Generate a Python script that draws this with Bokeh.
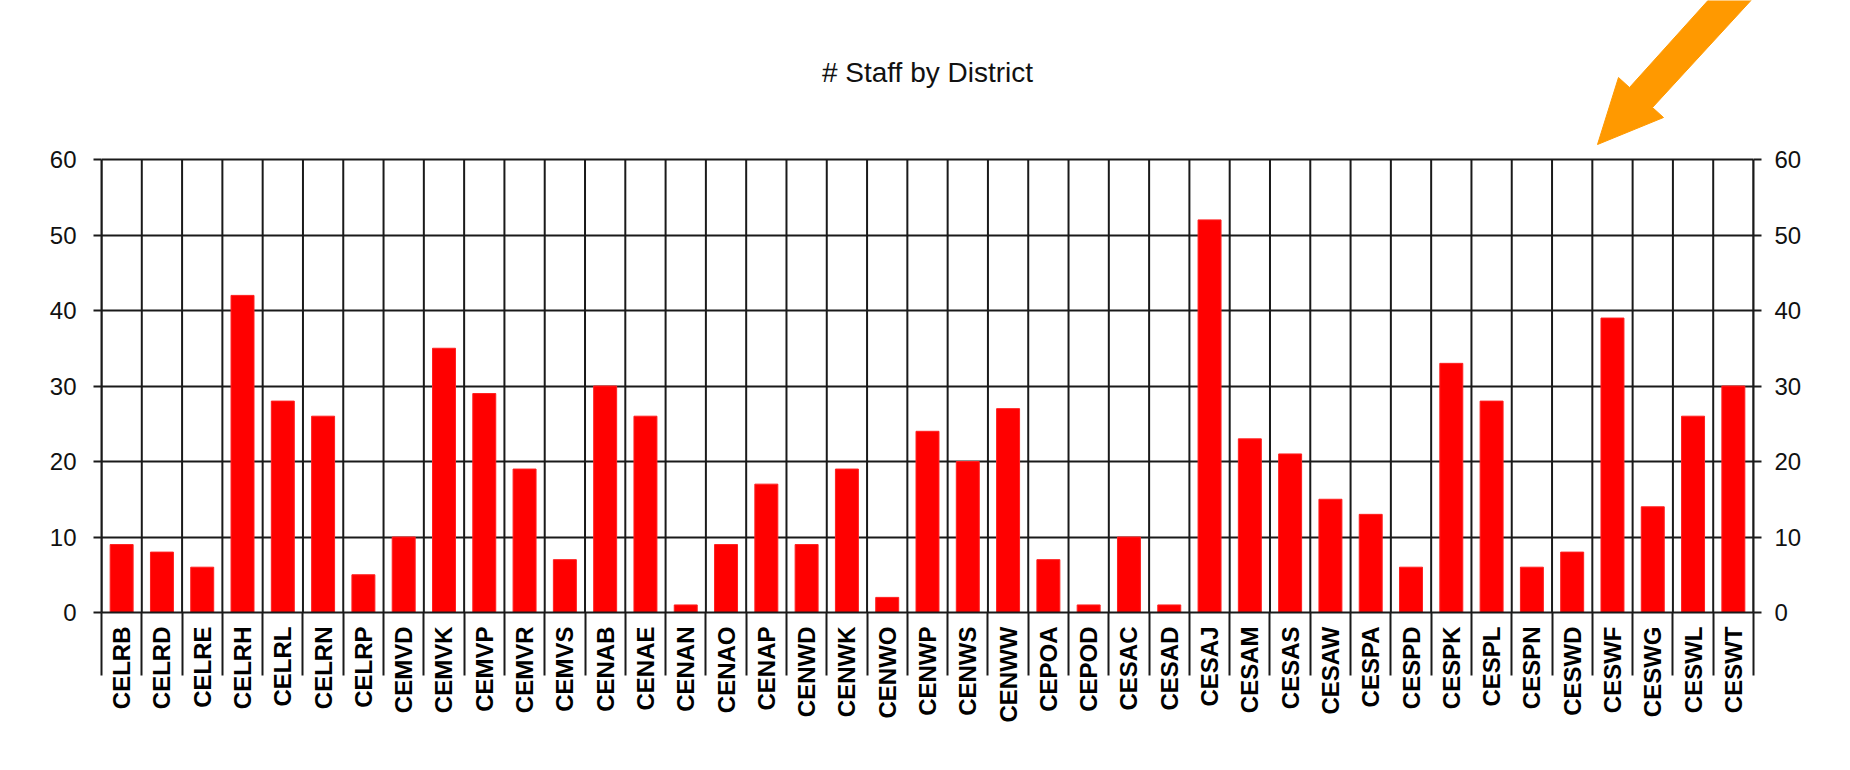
import math
from bokeh.plotting import figure
from bokeh.models import (Range1d, LinearAxis, FixedTicker, ColumnDataSource, Grid)
from bokeh.core.properties import value
from bokeh.embed import file_html
from bokeh.resources import INLINE

# ---------------- data ----------------
districts = ["CELRB", "CELRD", "CELRE", "CELRH", "CELRL", "CELRN", "CELRP",
             "CEMVD", "CEMVK", "CEMVP", "CEMVR", "CEMVS",
             "CENAB", "CENAE", "CENAN", "CENAO", "CENAP",
             "CENWD", "CENWK", "CENWO", "CENWP", "CENWS", "CENWW",
             "CEPOA", "CEPOD",
             "CESAC", "CESAD", "CESAJ", "CESAM", "CESAS", "CESAW",
             "CESPA", "CESPD", "CESPK", "CESPL", "CESPN",
             "CESWD", "CESWF", "CESWG", "CESWL", "CESWT"]
staff = [9, 8, 6, 42, 28, 26, 5,
         10, 35, 29, 19, 7,
         30, 26, 1, 9, 17,
         9, 19, 2, 24, 20, 27,
         7, 1,
         10, 1, 52, 23, 21, 15,
         13, 6, 33, 28, 6,
         8, 39, 14, 26, 30]
y_ticks = [0, 10, 20, 30, 40, 50, 60]
title_text = "# Staff by District"

# ---------------- layout constants ----------------
LEFT, RIGHT_B, BOTTOM_B = 101, 93, 158
FRAME_W = 1652
PLOT_H = 453          # pixel height of the 0..60 chart area
PLOT_TOP = 159        # canvas y of the 60 line
Y_MAX = 60
SEP_LEN = 63
n = len(districts)
centers = [i + 0.5 for i in range(n)]
bounds = list(range(n + 1))
LINE = "#1a1a1a"

px_per_unit = PLOT_H / Y_MAX
FRAME_H = PLOT_TOP + PLOT_H           # frame reaches the canvas top
Y_TOP = FRAME_H / px_per_unit

p = figure(frame_width=FRAME_W, frame_height=FRAME_H,
           min_border_left=LEFT, min_border_top=0,
           min_border_right=RIGHT_B, min_border_bottom=BOTTOM_B,
           x_range=Range1d(0, n), y_range=Range1d(0, Y_TOP),
           x_axis_type=None, y_axis_type=None,
           output_backend="svg", toolbar_location=None,
           background_fill_color="white", border_fill_color="white",
           outline_line_color=None)

# horizontal grid lines (0..60)
p.add_layout(Grid(dimension=1, ticker=FixedTicker(ticks=y_ticks),
                  grid_line_color=LINE, grid_line_width=2))
# vertical category separators inside the chart area
p.segment(x0=bounds, y0=[0] * len(bounds), x1=bounds, y1=[Y_MAX] * len(bounds),
          line_color=LINE, line_width=2)

def yaxis(standoff):
    return LinearAxis(ticker=FixedTicker(ticks=y_ticks), bounds=(0, Y_MAX),
                      major_tick_out=8, major_tick_in=0,
                      minor_tick_line_color=None,
                      axis_line_color=LINE, axis_line_width=2,
                      major_tick_line_color=LINE, major_tick_line_width=2,
                      major_label_standoff=standoff,
                      major_label_text_font="Liberation Sans",
                      major_label_text_font_size="24px",
                      major_label_text_color="#111111")

p.add_layout(yaxis(17), "left")
p.add_layout(yaxis(13), "right")

# category axis: labels at bar centres, long separators as minor ticks at boundaries
xaxis = LinearAxis(ticker=FixedTicker(ticks=centers, minor_ticks=bounds),
                   major_tick_out=0, major_tick_in=0,
                   major_tick_line_color=None,
                   minor_tick_out=SEP_LEN, minor_tick_in=0,
                   minor_tick_line_color=LINE, minor_tick_line_width=2,
                   axis_line_color=LINE, axis_line_width=2,
                   major_label_overrides={c: d for c, d in zip(centers, districts)},
                   major_label_orientation=math.pi / 2,
                   major_label_standoff=14 - SEP_LEN,
                   major_label_text_font="Liberation Sans",
                   major_label_text_font_style="bold",
                   major_label_text_font_size="24px",
                   major_label_text_color="#000000")
p.add_layout(xaxis, "below")

# bars
src = ColumnDataSource(dict(x=centers, top=staff, name=districts))
p.vbar(x="x", top="top", width=0.57, source=src,
       fill_color="#FF0000", line_color="#FF2020", line_width=1)

# helper: canvas pixel -> data units (for decorations only)
def to_data(px, py):
    return ((px - LEFT) / FRAME_W * n, (FRAME_H - py) / px_per_unit)

# title
tx, ty = to_data(LEFT + FRAME_W / 2, 72)
p.text(x=[tx], y=[ty], text=[title_text], text_align="center",
       text_baseline="middle", text_font=value("Liberation Sans"),
       text_font_size="28px", text_color="#111111")

# decorative orange arrow (outline in canvas pixels)
arrow_px = [(1597, 144), (1618, 77), (1629, 87), (1712, -5),
            (1755, -5), (1652, 107), (1663, 117)]
axs, ays = zip(*[to_data(x, y) for x, y in arrow_px])
p.patch(x=list(axs), y=list(ays), fill_color="#FF9900", line_color="#FF9900",
        line_width=1)

open("out.html", "w").write(file_html(p, INLINE))
